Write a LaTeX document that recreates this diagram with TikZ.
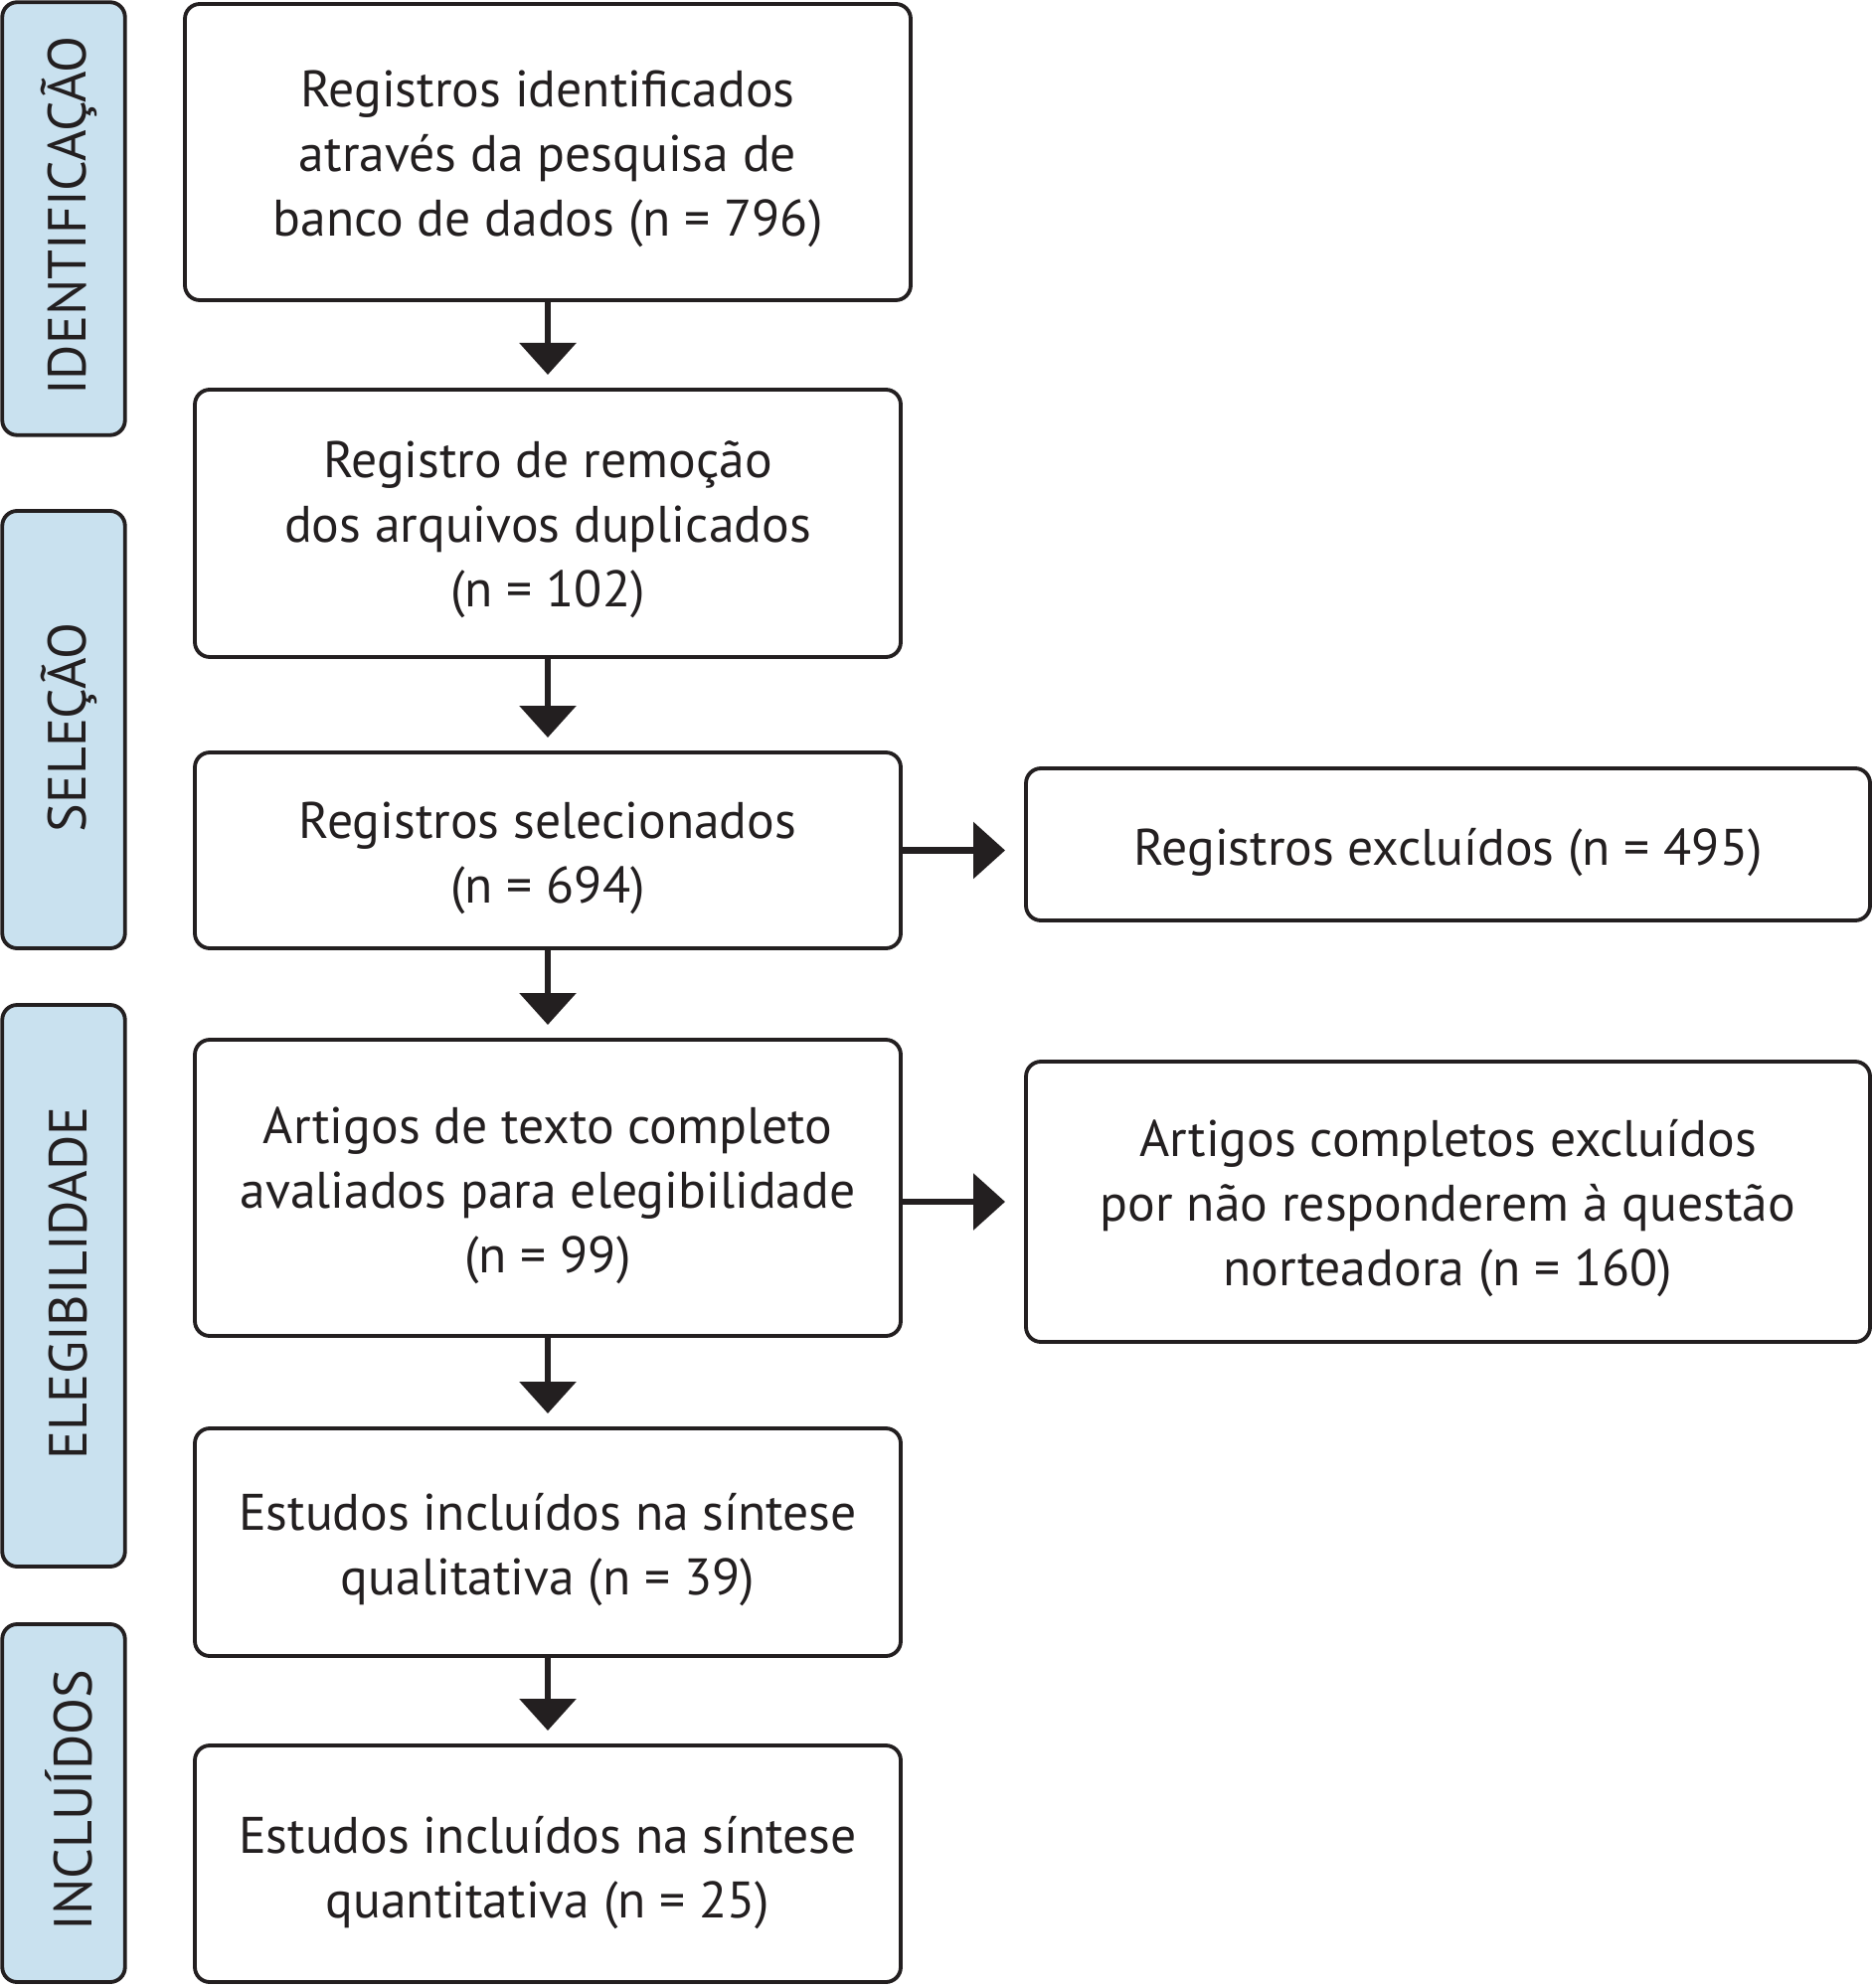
\documentclass[tikz,border=0pt]{standalone}
\usepackage{fontspec}
\setmainfont{PT Sans}
\usetikzlibrary{arrows.meta}
\definecolor{ink}{HTML}{231F20}
\definecolor{labelblue}{HTML}{C9E1EF}
\begin{document}
\begin{tikzpicture}[x=0.3pt,y=-0.3pt,
  every node/.style={inner sep=0pt,outer sep=0pt},
  flowbox/.style={draw=ink,line width=1.15pt,rounded corners=4.5pt,fill=white},
  boxtext/.style={align=center,text=ink,font=\fontsize{15.5}{19.5}\selectfont},
  stagebox/.style={draw=ink,line width=1.15pt,rounded corners=4.5pt,fill=labelblue,minimum width=37.05pt},
  stagetext/.style={text=ink,font=\fontsize{16.2}{18}\selectfont,rotate=90},
  flowarrow/.style={draw=ink,line width=1.9pt,-{Triangle[length=9.6pt,width=16.8pt]},shorten >=4.5pt}
]
\useasboundingbox (0,0) rectangle (1883,2000);
% stage labels
\node[stagebox,minimum height=130.65pt] (s1) at (64,220) {};
\node[stagebox,minimum height=132pt] (s2) at (64,734) {};
\node[stagebox,minimum height=169.5pt] (s3) at (64,1293.5) {};
\node[stagebox,minimum height=108pt] (s4) at (64,1814) {};
\node[stagetext] (t1) at (69,217) {IDENTIFICAÇÃO};
\node[stagetext] (t2) at (69,732) {SELEÇÃO};
\node[stagetext] (t3) at (69,1291) {ELEGIBILIDADE};
\node[stagetext] (t4) at (69,1811) {INCLUÍDOS};
% main boxes
\node[flowbox,minimum width=219pt,minimum height=89.4pt] (b1) at (551,153) {};
\node[flowbox,minimum width=213pt,minimum height=80.7pt] (b2) at (551,526.5) {};
\node[flowbox,minimum width=213pt,minimum height=59.1pt] (b3) at (551,855.5) {};
\node[flowbox,minimum width=213pt,minimum height=89.4pt] (b4) at (551,1195) {};
\node[flowbox,minimum width=213pt,minimum height=68.7pt] (b5) at (551,1551.5) {};
\node[flowbox,minimum width=213pt,minimum height=71.4pt] (b6) at (551,1875) {};
\node[flowbox,minimum width=254.7pt,minimum height=45.9pt] (r1) at (1456.5,849.5) {};
\node[flowbox,minimum width=254.7pt,minimum height=84.6pt] (r2) at (1456.5,1209) {};
% box texts
\node[boxtext] (b1t) at ([yshift=-2pt]b1.center)
  {Registros identificados\\através da pesquisa de\\banco de dados (n = 796)};
\node[boxtext] (b2t) at ([yshift=-2pt]b2.center)
  {Registro de remoção\\dos arquivos duplicados\\(n = 102)};
\node[boxtext] (b3t) at ([yshift=-2.3pt]b3.center)
  {Registros selecionados\\(n = 694)};
\node[boxtext] (b4t) at ([yshift=-2.2pt]b4.center)
  {Artigos de texto completo\\avaliados para elegibilidade\\(n = 99)};
\node[boxtext] (b5t) at ([yshift=-2.2pt]b5.center)
  {Estudos incluídos na síntese\\qualitativa (n = 39)};
\node[boxtext] (b6t) at ([yshift=-2.6pt]b6.center)
  {Estudos incluídos na síntese\\quantitativa (n = 25)};
\node[boxtext] (r1t) at ([yshift=-2.4pt]r1.center)
  {Registros excluídos (n = 495)};
\node[boxtext] (r2t) at ([yshift=-2pt]r2.center)
  {Artigos completos excluídos\\por não responderem à questão\\norteadora (n = 160)};
% arrows
\draw[flowarrow] (b1) -- (b2);
\draw[flowarrow] (b2) -- (b3);
\draw[flowarrow] (b3) -- (b4);
\draw[flowarrow] (b4) -- (b5);
\draw[flowarrow] (b5) -- (b6);
\draw[flowarrow,shorten >=6.3pt] (b3.east) -- (b3.east -| r1.west);
\draw[flowarrow,shorten >=6.3pt] (b4.east |- r2) -- (r2.west);
\end{tikzpicture}
\end{document}
